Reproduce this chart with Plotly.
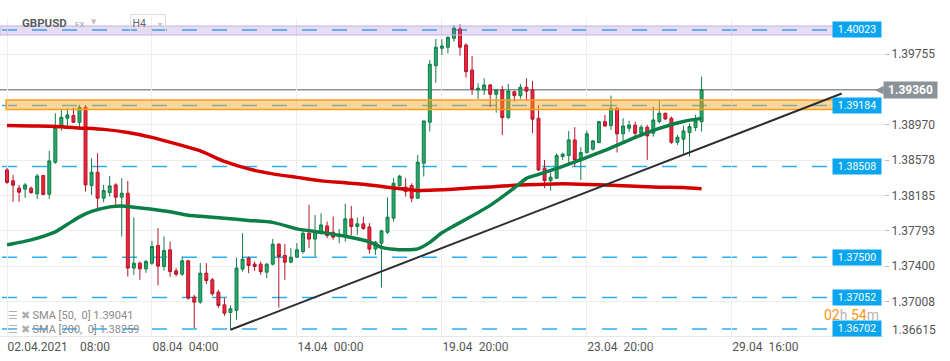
import plotly.graph_objects as go

# ---------------- data (GBPUSD, H4 bars) ----------------
bars = list(range(116))
opens = [1.38469, 1.38347, 1.38266, 1.38255, 1.38266, 1.38203, 1.38406, 1.38199, 1.38554, 1.38943,
         1.39043, 1.39072, 1.38998, 1.39165, 1.38295, 1.38443, 1.38155, 1.38217, 1.38302, 1.38166,
         1.38210, 1.37378, 1.37433, 1.37370, 1.37433, 1.37629, 1.37396, 1.37581, 1.37348, 1.37311,
         1.37459, 1.37056, 1.37000, 1.37322, 1.37248, 1.37111, 1.36970, 1.36885, 1.36909, 1.37367,
         1.37489, 1.37422, 1.37422, 1.37333, 1.37422, 1.37644, 1.37518, 1.37444, 1.37500, 1.37562,
         1.37766, 1.37700, 1.37784, 1.37847, 1.37777, 1.37729, 1.37729, 1.37925, 1.37840, 1.37870,
         1.37836, 1.37589, 1.37655, 1.37777, 1.37933, 1.38295, 1.38277, 1.38295, 1.38155, 1.38543,
         1.38998, 1.39627, 1.39820, 1.39831, 1.39931, 1.40034, 1.39856, 1.39579, 1.39357, 1.39357,
         1.39412, 1.39309, 1.39357, 1.39050, 1.39338, 1.39294, 1.39387, 1.39357, 1.39043, 1.38488,
         1.38350, 1.38377, 1.38617, 1.38628, 1.38802, 1.38580, 1.38661, 1.38699, 1.38772, 1.39005,
         1.38961, 1.39154, 1.38869, 1.38932, 1.38965, 1.38876, 1.38943, 1.38876, 1.39005, 1.39098,
         1.39043, 1.38776, 1.38810, 1.38883, 1.38939, 1.39005]
highs = [1.38491, 1.38413, 1.38302, 1.38325, 1.38284, 1.38425, 1.38413, 1.38680, 1.39098, 1.39135,
         1.39157, 1.39161, 1.39190, 1.39190, 1.38599, 1.38654, 1.38302, 1.38402, 1.38321, 1.38377,
         1.38347, 1.37940, 1.37451, 1.37470, 1.37681, 1.37822, 1.37729, 1.37673, 1.37378, 1.37507,
         1.37470, 1.37081, 1.37433, 1.37433, 1.37270, 1.37137, 1.37045, 1.36963, 1.37492, 1.37766,
         1.37507, 1.37451, 1.37451, 1.37433, 1.37703, 1.37655, 1.37644, 1.37600, 1.37655, 1.37822,
         1.38080, 1.37969, 1.37988, 1.37895, 1.37951, 1.37814, 1.38092, 1.38069, 1.37940, 1.37951,
         1.37877, 1.37681, 1.37803, 1.38162, 1.38377, 1.38413, 1.38377, 1.38321, 1.38635, 1.39013,
         1.39690, 1.39923, 1.39920, 1.39949, 1.40078, 1.40086, 1.39875, 1.39734, 1.39431, 1.39487,
         1.39424, 1.39365, 1.39401, 1.39424, 1.39346, 1.39424, 1.39487, 1.39457, 1.39190, 1.38580,
         1.38439, 1.38654, 1.38661, 1.38902, 1.38943, 1.38721, 1.38905, 1.38802, 1.39013, 1.39079,
         1.39294, 1.39161, 1.39043, 1.39016, 1.39005, 1.38968, 1.38968, 1.39172, 1.39246, 1.39105,
         1.39061, 1.38857, 1.38961, 1.38987, 1.39079, 1.39505]
lows = [1.38314, 1.38114, 1.38114, 1.38158, 1.38203, 1.38147, 1.38191, 1.38147, 1.38536, 1.38905,
        1.38950, 1.38991, 1.38913, 1.38228, 1.38191, 1.38044, 1.38110, 1.38173, 1.38080, 1.37729,
        1.37285, 1.37303, 1.37248, 1.37326, 1.37414, 1.37185, 1.37351, 1.37281, 1.37285, 1.37292,
        1.37026, 1.36712, 1.36982, 1.37200, 1.37070, 1.36937, 1.36848, 1.36693, 1.36804, 1.37340,
        1.37322, 1.37348, 1.37303, 1.37267, 1.37407, 1.36941, 1.37248, 1.37433, 1.37489, 1.37537,
        1.37600, 1.37507, 1.37747, 1.37711, 1.37692, 1.37655, 1.37673, 1.37740, 1.37747, 1.37803,
        1.37537, 1.37525, 1.37163, 1.37755, 1.37895, 1.38284, 1.38173, 1.38110, 1.38147, 1.38395,
        1.38894, 1.39438, 1.39745, 1.39764, 1.39893, 1.39738, 1.39494, 1.39301, 1.39257, 1.39301,
        1.39165, 1.39105, 1.38857, 1.39032, 1.39227, 1.39260, 1.39238, 1.38876, 1.38458, 1.38266,
        1.38239, 1.38369, 1.38580, 1.38543, 1.38506, 1.38358, 1.38654, 1.38683, 1.38765, 1.38950,
        1.38913, 1.38661, 1.38783, 1.38894, 1.38839, 1.38832, 1.38580, 1.38839, 1.38987, 1.39024,
        1.38758, 1.38746, 1.38635, 1.38617, 1.38902, 1.38894]
closes = [1.38330, 1.38299, 1.38221, 1.38302, 1.38217, 1.38402, 1.38195, 1.38569, 1.38943, 1.39054,
          1.39079, 1.38998, 1.39165, 1.38302, 1.38443, 1.38155, 1.38239, 1.38291, 1.38166, 1.38210,
          1.37378, 1.37433, 1.37370, 1.37451, 1.37618, 1.37400, 1.37573, 1.37340, 1.37311, 1.37459,
          1.37045, 1.37000, 1.37322, 1.37240, 1.37093, 1.36963, 1.36878, 1.36926, 1.37378, 1.37478,
          1.37407, 1.37396, 1.37340, 1.37422, 1.37644, 1.37507, 1.37444, 1.37500, 1.37581, 1.37766,
          1.37700, 1.37792, 1.37858, 1.37740, 1.37722, 1.37755, 1.37925, 1.37840, 1.37870, 1.37817,
          1.37589, 1.37666, 1.37792, 1.37944, 1.38321, 1.38399, 1.38228, 1.38155, 1.38554, 1.39013,
          1.39642, 1.39831, 1.39845, 1.39942, 1.40042, 1.39831, 1.39560, 1.39365, 1.39376, 1.39412,
          1.39309, 1.39357, 1.39050, 1.39346, 1.39294, 1.39387, 1.39343, 1.39032, 1.38469, 1.38350,
          1.38388, 1.38628, 1.38643, 1.38802, 1.38580, 1.38661, 1.38869, 1.38791, 1.39005, 1.38957,
          1.39154, 1.38869, 1.38957, 1.38968, 1.38876, 1.38943, 1.38846, 1.39024, 1.39098, 1.39035,
          1.38776, 1.38832, 1.38902, 1.38950, 1.39013, 1.39360]

sma50_bars = [0, 4, 8, 10, 12, 14, 17, 19, 21, 24, 27, 30, 32, 36, 40, 44, 48, 52, 56, 60, 62, 64,
              66, 68, 70, 72, 74, 76, 80, 84, 86, 88, 92, 96, 100, 104, 108, 112, 115]
sma50_vals = [1.37636, 1.37692, 1.37781, 1.37864, 1.37947, 1.38008, 1.38058, 1.38069, 1.38053, 1.38033,
              1.38003, 1.37964, 1.37953, 1.37931, 1.37908, 1.37886, 1.37814, 1.37775, 1.37731, 1.37670,
              1.37609, 1.37587, 1.37581, 1.37592, 1.37664, 1.37770, 1.37847, 1.37920, 1.38075, 1.38269,
              1.38375, 1.38419, 1.38508, 1.38608, 1.38713, 1.38830, 1.38930, 1.39007, 1.39041]
sma200_bars = [0, 4, 8, 12, 16, 20, 24, 28, 32, 36, 40, 44, 48, 52, 56, 60, 64, 68, 72, 76, 80, 84,
               88, 92, 96, 100, 104, 108, 112, 115]
sma200_vals = [1.38963, 1.38957, 1.38952, 1.38935, 1.38919, 1.38885, 1.38830, 1.38758, 1.38680, 1.38563,
               1.38480, 1.38425, 1.38386, 1.38347, 1.38325, 1.38302, 1.38269, 1.38241, 1.38247, 1.38264,
               1.38280, 1.38297, 1.38308, 1.38314, 1.38308, 1.38297, 1.38286, 1.38277, 1.38273, 1.38259]

levels = [1.40023, 1.39184, 1.38508, 1.37500, 1.37052, 1.36702]
level_texts = ["1.40023", "1.39184", "1.38508", "1.37500", "1.37052", "1.36702"]
purple_zone = (1.39967, 1.40067)
orange_zone = (1.39140, 1.39245)
current_price = 1.39360
trend_bars = [37, 138.2]
trend_vals = [1.36693, 1.39317]

y_ticks = [1.37008, 1.37400, 1.37793, 1.38185, 1.38578, 1.38970, 1.39755]
y_tick_text = ["1.37008", "1.37400", "1.37793", "1.38185", "1.38578", "1.38970", "1.39755"]
bottom_tick = "1.36615"
x_ticks = [0, 24, 48, 72, 96, 120]
x_tick_text = ["02.04.2021\u200308:00", "08.04\u200204:00", "14.04\u200200:00",
               "19.04\u200220:00", "23.04\u200220:00", "29.04\u200216:00"]

FONT = "Roboto, Arial, sans-serif"

# ---------------- figure ----------------
fig = go.Figure()
fig.add_trace(go.Candlestick(
    x=bars, open=opens, high=highs, low=lows, close=closes,
    increasing=dict(fillcolor="#27a96c", line=dict(color="#137b48", width=1)),
    decreasing=dict(fillcolor="#f0253d", line=dict(color="#b31628", width=1)),
    whiskerwidth=0, showlegend=False, hoverinfo="skip"))
fig.add_trace(go.Scatter(x=sma200_bars, y=sma200_vals, mode="lines",
                         line=dict(color="#d40000", width=3.5, shape="spline", smoothing=0.6),
                         showlegend=False, hoverinfo="skip"))
fig.add_trace(go.Scatter(x=sma50_bars, y=sma50_vals, mode="lines",
                         line=dict(color="#0b7f47", width=3.5, shape="spline", smoothing=0.6),
                         showlegend=False, hoverinfo="skip"))

PLOT_W = 884.0
PLOT_H = 318.0
shapes = []
# dashed levels
for lv in levels:
    shapes.append(dict(type="line", xref="paper", yref="y", x0=2 / PLOT_W, x1=832 / PLOT_W,
                       y0=lv, y1=lv, layer="below",
                       line=dict(color="#2aaeee", width=1.5, dash="15px,15px")))
# current price line
shapes.append(dict(type="line", xref="paper", yref="y", x0=0, x1=1, y0=current_price, y1=current_price,
                   layer="below", line=dict(color="#8b9398", width=1.5)))
# zones
shapes.append(dict(type="rect", xref="paper", yref="y", x0=0, x1=835 / PLOT_W,
                   y0=purple_zone[0], y1=purple_zone[1], layer="above",
                   fillcolor="rgba(140,100,210,0.22)", line=dict(color="#c4b2e2", width=1)))
shapes.append(dict(type="rect", xref="paper", yref="y", x0=6 / PLOT_W, x1=835 / PLOT_W,
                   y0=orange_zone[0], y1=orange_zone[1], layer="above",
                   fillcolor="rgba(251,165,40,0.45)", line=dict(color="#f6a11e", width=1.5)))
# trend line
shapes.append(dict(type="line", xref="x", yref="y", x0=trend_bars[0], x1=trend_bars[1],
                   y0=trend_vals[0], y1=trend_vals[1], layer="above",
                   line=dict(color="#2b2f33", width=2)))

annotations = []
for lv, txt in zip(levels, level_texts):
    annotations.append(dict(xref="paper", yref="y", x=857 / PLOT_W, y=lv, text=txt, showarrow=False,
                            xanchor="center", yanchor="middle", width=48, height=15, borderpad=0,
                            bgcolor="#0aa5ef", font=dict(family=FONT, size=10.5, color="white")))
# current price tag
annotations.append(dict(xref="paper", yref="y", x=910.5 / PLOT_W, y=current_price, text="<b>1.39360</b>",
                        showarrow=False, xanchor="center", yanchor="middle", width=53, height=16,
                        borderpad=0, bgcolor="#8b9398", font=dict(family=FONT, size=12, color="white")))
annotations.append(dict(xref="paper", yref="y", x=884 / PLOT_W, y=current_price, text="◀",
                        showarrow=False, xanchor="right", yanchor="middle",
                        font=dict(family="DejaVu Sans", size=11, color="#8b9398"), xshift=2))
# bottom y label (clamped at the edge)
annotations.append(dict(xref="paper", yref="paper", x=1, y=(336 - 330) / PLOT_H, text=bottom_tick,
                        showarrow=False, xanchor="left", yanchor="middle", xshift=6,
                        font=dict(family=FONT, size=12, color="#555555")))
# countdown
annotations.append(dict(xref="paper", yref="paper", x=851.5 / PLOT_W, y=(336 - 315) / PLOT_H,
                        text="<span style='color:#f7941d'>02</span><span style='color:#b5b5b5'>h</span> "
                             "<span style='color:#f7941d'>54</span><span style='color:#b5b5b5'>m</span>",
                        showarrow=False, xanchor="center", yanchor="middle",
                        font=dict(family=FONT, size=14)))
# indicator legend
for row_y, txt in [(315, "SMA [50,\u00a0 0] 1.39041"), (329, "SMA [200,\u00a0 0] 1.38259")]:
    annotations.append(dict(xref="paper", yref="paper", x=6 / PLOT_W, y=(336 - row_y) / PLOT_H,
                            text="<span style='color:#b0b0b0'>☰ ✖</span> " + txt, showarrow=False,
                            xanchor="left", yanchor="middle",
                            font=dict(family=FONT, size=11, color="#8a8a8a")))
# header
annotations.append(dict(xref="paper", yref="paper", x=20 / PLOT_W, y=(336 - 23) / PLOT_H,
                        text="<b>GBPUSD</b>", showarrow=False, xanchor="left", yanchor="middle",
                        font=dict(family=FONT, size=11.5, color="#5a5e63")))
annotations.append(dict(xref="paper", yref="paper", x=73 / PLOT_W, y=(336 - 24) / PLOT_H,
                        text="FX", showarrow=False, xanchor="left", yanchor="middle",
                        font=dict(family=FONT, size=8, color="#a0a0a0")))
annotations.append(dict(xref="paper", yref="paper", x=94 / PLOT_W, y=(336 - 22) / PLOT_H,
                        text="▼", showarrow=False, xanchor="center", yanchor="middle",
                        font=dict(family="DejaVu Sans", size=7, color="#c0c0c0")))
annotations.append(dict(xref="paper", yref="paper", x=148 / PLOT_W, y=(336 - 23) / PLOT_H,
                        text="H4\u2003<span style='font-size:7px;color:#c0c0c0'>▼</span>",
                        showarrow=False, xanchor="center", yanchor="middle", width=34, height=16,
                        borderpad=0, bordercolor="#dddddd", borderwidth=1,
                        font=dict(family=FONT, size=10.5, color="#666666")))

fig.update_layout(
    width=950, height=361,
    margin=dict(l=0, r=66, t=18, b=25),
    paper_bgcolor="white", plot_bgcolor="white",
    shapes=shapes, annotations=annotations,
    showlegend=False, hovermode=False,
    xaxis=dict(range=[-1.159, 145.199], tickmode="array", tickvals=x_ticks, ticktext=x_tick_text,
               showgrid=True, gridcolor="#eeeeee", gridwidth=1, zeroline=False,
               showline=True, linecolor="#e6e6e6", linewidth=1,
               ticks="", ticklabelposition="outside right", rangeslider=dict(visible=False),
               tickfont=dict(family=FONT, size=12, color="#555555")),
    yaxis=dict(range=[1.36624, 1.40156], side="right", tickmode="array", tickvals=y_ticks,
               ticktext=y_tick_text, showgrid=True, gridcolor="#eeeeee", gridwidth=1,
               zeroline=False, ticks="outside", ticklen=4, tickcolor="#bbbbbb",
               tickfont=dict(family=FONT, size=12, color="#555555")),
)

fig.write_html("out.html", config={"displayModeBar": False},
               post_script="document.body.style.margin='0';document.body.style.padding='0';")
